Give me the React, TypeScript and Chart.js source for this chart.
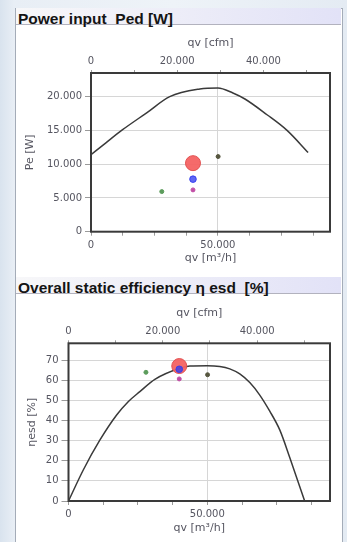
import React, { useEffect, useRef } from 'react';
import { Chart, registerables } from 'chart.js';

Chart.register(...registerables);

// ---- data -------------------------------------------------------------
const CFM_FACTOR = 1.699; // m³/h per cfm
const FLOW_MAX = 94200; // m³/h

// power input curve: flow [m³/h] / power [W]
const powerFlow = [0, 6000, 12450, 21940, 31030, 42890, 50000, 55930, 60670, 69370, 77270, 85570];
const powerValues = [11400, 13200, 15100, 17600, 20000, 21130, 21280, 20540, 19650, 17320, 15000, 11720];

// efficiency curve: flow [m³/h] / efficiency [%]
const effFlow = [0, 5320, 11330, 17340, 21500, 25700, 31100, 40100, 43700, 50000, 54500, 58100, 61700, 65300, 68900, 72500, 76100, 79700, 85070];
const effValues = [0, 15.4, 30.3, 42.7, 49.3, 54.3, 60.4, 65.9, 67.0, 67.2, 66.8, 65.6, 63.1, 58.8, 52.6, 44.6, 35.3, 21.6, 0];

// operating points
const pointNames = ['operating point', 'point B', 'point C', 'point D', 'point E'];
const pointFlowPower = [40200, 40200, 40200, 27900, 50100];
const pointPower = [10150, 7780, 6190, 5940, 11130];
const pointFlowEff = [39900, 39900, 39900, 27900, 50100];
const pointEff = [67.0, 65.4, 60.6, 63.9, 62.7];

// axis ranges and ticks
const powerMax = 23500;
const powerTicks = [0, 5000, 10000, 15000, 20000];
const effMax = 78.3;
const effTicks = [0, 10, 20, 30, 40, 50, 60, 70];
const flowTicks = [0, 12500, 25000, 37500, 50000, 62500, 75000, 87500];
const flowLabelled = [0, 50000];
const cfmTicks = [0, 10000, 20000, 30000, 40000, 50000];
const cfmLabelled = [0, 20000, 40000];

// ---- styles -----------------------------------------------------------
const pointColors = ['rgba(244,98,98,0.95)', 'rgba(50,60,240,0.78)', '#c24fa6', '#5c9c5c', '#56563f'];
const pointBorders = ['#e25252', 'rgba(50,60,240,0.9)', '#c24fa6', '#5c9c5c', '#56563f'];
const pointRadii = [7.5, 3.3, 2, 2, 2];
const pointOrder = [5, 1, 2, 3, 4];

const TICK = '#555560';
const GRID = '#d6d6d6';
const FONT = 'DejaVu Sans';

const fmt = (v: number) => String(Math.round(v)).replace(/\B(?=(\d{3})+(?!\d))/g, '.');

const framePlugin = {
  id: 'frame',
  afterDatasetsDraw(chart: any) {
    const { ctx, chartArea: a } = chart;
    ctx.save();
    ctx.strokeStyle = '#3a3a3a';
    ctx.lineWidth = 2;
    ctx.strokeRect(a.left, a.top, a.right - a.left, a.bottom - a.top);
    ctx.restore();
  },
};

interface Cfg {
  curveX: number[];
  curveY: number[];
  ptX: number[];
  ptY: number[];
  yMax: number;
  yTicks: number[];
  yTitle: string;
  yWidth: number;
  yTickLen: number;
  yTitlePad: number;
  x2Height: number;
  x2TitlePad: number;
  xHeight: number;
  xTitlePad: number;
}

const setTicks = (values: number[]) => (scale: any) => {
  scale.ticks = values.map((value) => ({ value }));
};

function makeConfig(c: Cfg): any {
  const datasets: any[] = [
    {
      label: 'curve',
      type: 'line',
      data: c.curveX.map((x, i) => ({ x, y: c.curveY[i] })),
      borderColor: '#3a3a3a',
      borderWidth: 1.5,
      pointRadius: 0,
      fill: false,
      cubicInterpolationMode: 'monotone',
      showLine: true,
      order: 10,
    },
  ];
  c.ptX.forEach((x, i) => {
    datasets.push({
      label: pointNames[i],
      type: 'scatter',
      data: [{ x, y: c.ptY[i] }],
      backgroundColor: pointColors[i],
      borderColor: pointBorders[i],
      borderWidth: 1,
      pointRadius: pointRadii[i],
      order: pointOrder[i],
    });
  });
  const tickFont = { family: FONT, size: 10 };
  const titleFont = { family: FONT, size: 11 };
  return {
    type: 'scatter',
    data: { datasets },
    options: {
      animation: false,
      responsive: false,
      maintainAspectRatio: false,
      layout: { padding: { left: 0, right: 17, top: 0, bottom: 0 } },
      plugins: { legend: { display: false }, tooltip: { enabled: false } },
      scales: {
        x: {
          type: 'linear',
          position: 'bottom',
          min: 0,
          max: FLOW_MAX,
          afterBuildTicks: setTicks(flowTicks),
          ticks: {
            autoSkip: false,
            maxRotation: 0,
            padding: 3.5,
            color: TICK,
            font: tickFont,
            callback: (v: number) => (flowLabelled.includes(v) ? fmt(v) : ''),
          },
          grid: {
            color: (ctx: any) => (ctx.tick && ctx.tick.value === 50000 ? GRID : 'rgba(0,0,0,0)'),
            tickColor: '#9a9a9a',
            tickLength: 4,
          },
          border: { display: false },
          title: { display: true, text: 'qv [m³/h]', color: TICK, font: titleFont, padding: { top: 0, bottom: c.xTitlePad } },
          afterFit: (s: any) => {
            s.height = c.xHeight;
          },
        },
        x2: {
          type: 'linear',
          position: 'top',
          min: 0,
          max: FLOW_MAX / CFM_FACTOR,
          afterBuildTicks: setTicks(cfmTicks),
          ticks: {
            autoSkip: false,
            maxRotation: 0,
            padding: 2.5,
            color: TICK,
            font: tickFont,
            callback: (v: number) => (cfmLabelled.includes(v) ? fmt(v) : ''),
          },
          grid: { drawOnChartArea: false, tickColor: '#9a9a9a', tickLength: 3 },
          border: { display: false },
          title: { display: true, text: 'qv [cfm]', color: TICK, font: titleFont, padding: { top: c.x2TitlePad, bottom: 0 } },
          afterFit: (s: any) => {
            s.height = c.x2Height;
          },
        },
        y: {
          type: 'linear',
          position: 'left',
          min: 0,
          max: c.yMax,
          afterBuildTicks: setTicks(c.yTicks),
          ticks: {
            autoSkip: false,
            padding: 3,
            color: TICK,
            font: tickFont,
            callback: (v: number) => fmt(v),
          },
          grid: { color: GRID, tickColor: '#9a9a9a', tickLength: c.yTickLen },
          border: { display: false },
          title: { display: true, text: c.yTitle, color: TICK, font: titleFont, padding: { top: c.yTitlePad, bottom: 0 } },
          afterFit: (s: any) => {
            s.width = c.yWidth;
          },
        },
      },
    },
    plugins: [framePlugin],
  };
}

function ChartCanvas({ top, height, cfg }: { top: number; height: number; cfg: Cfg }) {
  const ref = useRef<HTMLCanvasElement | null>(null);
  useEffect(() => {
    if (!ref.current) return;
    const chart = new Chart(ref.current, makeConfig(cfg));
    return () => chart.destroy();
  }, []);
  return (
    <canvas
      ref={ref}
      width={347}
      height={height}
      style={{ position: 'absolute', left: 0, top, width: 347, height }}
    />
  );
}

function TitleBar({ top, text }: { top: number; text: string }) {
  return (
    <div
      style={{
        position: 'absolute',
        left: 16,
        top,
        width: 325,
        height: 17,
        background: 'linear-gradient(to right, #f7f7f9 0%, #eeeef8 45%, #e2e2f7 100%)',
        borderBottom: '1px solid #b2b2be',
        fontFamily: "'Liberation Sans', Arial, sans-serif",
        fontWeight: 'bold',
        fontSize: 15.5,
        lineHeight: '21px',
        color: '#141414',
        paddingLeft: 2,
        whiteSpace: 'pre',
        overflow: 'visible',
        boxSizing: 'border-box',
      }}
    >
      {text}
    </div>
  );
}

export default function App() {
  const powerCfg: Cfg = {
    curveX: powerFlow,
    curveY: powerValues,
    ptX: pointFlowPower,
    ptY: pointPower,
    yMax: powerMax,
    yTicks: powerTicks,
    yTitle: 'Pe [W]',
    yWidth: 91,
    yTickLen: 6,
    yTitlePad: 23.9,
    x2Height: 45,
    x2TitlePad: 8.4,
    xHeight: 40.3,
    xTitlePad: 7.4,
  };
  const effCfg: Cfg = {
    curveX: effFlow,
    curveY: effValues,
    ptX: pointFlowEff,
    ptY: pointEff,
    yMax: effMax,
    yTicks: effTicks,
    yTitle: 'ηesd [%]',
    yWidth: 68.5,
    yTickLen: 7,
    yTitlePad: 25.9,
    x2Height: 46.3,
    x2TitlePad: 9.4,
    xHeight: 41,
    xTitlePad: 7.4,
  };
  return (
    <div
      style={{
        position: 'fixed',
        left: 0,
        top: 0,
        width: 347,
        height: 542,
        overflow: 'hidden',
        background: 'linear-gradient(to right, #d9e3ee 0%, #e8eef5 4%, #eef3f8 50%, #e4ebf3 100%)',
      }}
    >
      <div
        style={{
          position: 'absolute',
          left: 15,
          top: 8,
          width: 326,
          height: 540,
          background: '#ffffff',
          border: '1px solid #a4acb8',
        }}
      />
      <TitleBar top={8} text="Power input  Ped [W]" />
      <ChartCanvas top={28} height={244} cfg={powerCfg} />
      <TitleBar top={277} text="Overall static efficiency η esd  [%]" />
      <ChartCanvas top={297} height={245} cfg={effCfg} />
    </div>
  );
}
